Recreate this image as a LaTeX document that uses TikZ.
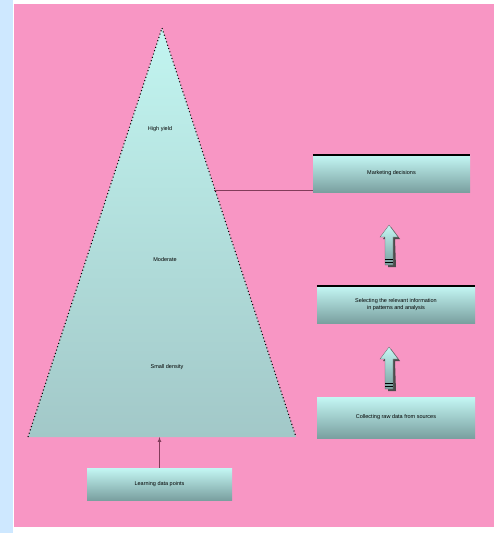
\documentclass[tikz,border=0pt]{standalone}
\usepackage{fontspec}
\setmainfont{Liberation Sans}
\usetikzlibrary{calc}
\definecolor{pinkbg}{RGB}{248,150,196}
\definecolor{sideblue}{RGB}{206,232,255}
\definecolor{cyantop}{RGB}{196,247,244}
\definecolor{cyanbot}{RGB}{122,160,160}
\definecolor{tritop}{RGB}{194,245,240}
\definecolor{tribot}{RGB}{162,200,200}
\definecolor{linkcol}{RGB}{130,60,90}
\tikzset{
  infobox/.style={rectangle, inner sep=1pt, top color=cyantop, bottom color=cyanbot, font=\fontsize{5.5}{7}\selectfont, align=center},
  trilabel/.style={font=\fontsize{5.5}{7}\selectfont},
  topbar/.style={line width=1.4pt, black},
  link/.style={draw=linkcol, line width=0.7pt},
}
\begin{document}
\begin{tikzpicture}[x=1pt,y=-1pt]
\useasboundingbox (0,0) rectangle (494,533);
\fill[white] (0,0) rectangle (494,533);
\fill[sideblue] (0,0) rectangle (13,533);
\fill[pinkbg] (14,4) rectangle (494,527);
% pyramid
\coordinate (apex) at (162,28);
\coordinate (bl) at (28,437);
\coordinate (br) at (296,437);
\shade[top color=tritop, bottom color=tribot] (apex) -- (br) -- (bl) -- cycle;
\draw[dash pattern=on 1pt off 2.5pt, line width=1.1pt] (bl) -- (apex) -- (br);
\node[trilabel] (t1) at (160,129) {High yield};
\node[trilabel] (t2) at (165,260) {Moderate};
\node[trilabel] (t3) at (167,367) {Small density};
% right boxes
\node[infobox, minimum width=157pt, minimum height=37pt] (b1) at (391.5,173.5) {Marketing decisions};
\draw[topbar] (b1.north west) -- (b1.north east);
\node[infobox, minimum width=158pt, minimum height=37pt] (b2) at (396,304.5) {Selecting the relevant information\\in patterns and analysis};
\draw[topbar] (b2.north west) -- (b2.north east);
\node[infobox, minimum width=158pt, minimum height=41pt] (b3) at (396,417.5) {Collecting raw data from sources};
\node[infobox, minimum width=145pt, minimum height=32pt] (b4) at (159.5,484) {Learning data points};
% connectors
\coordinate (trir) at (214,190);
\draw[link] (trir) -- (b1.west |- trir);
\coordinate (base) at (159.5,437);
\draw[link, -latex] (b4.north) -- (base);
% block arrows
\foreach \n/\tip/\bot in {a1/225/265, a2/347/389}{
  \fill[black!70] ($(389,\tip)+(2,2)$) -- ++(9,12) -- ++(-5,0) -- (396,\bot+2) -- (388,\bot+2) -- ++(0,{-(\bot-\tip-12)}) -- ++(-5,0) -- cycle;
  \shade[top color=cyantop, bottom color=cyanbot, draw=black!60, line width=0.3pt] (389,\tip) -- ++(9,12) -- ++(-5,0) -- (393,\bot) -- (385,\bot) -- ++(0,{-(\bot-\tip-12)}) -- ++(-5,0) -- cycle;
  \draw[black, line width=1pt] (385,\bot-6) -- (393,\bot-6);
  \draw[black, line width=1pt] (385,\bot-2.5) -- (393,\bot-2.5);
}
\end{tikzpicture}
\end{document}
